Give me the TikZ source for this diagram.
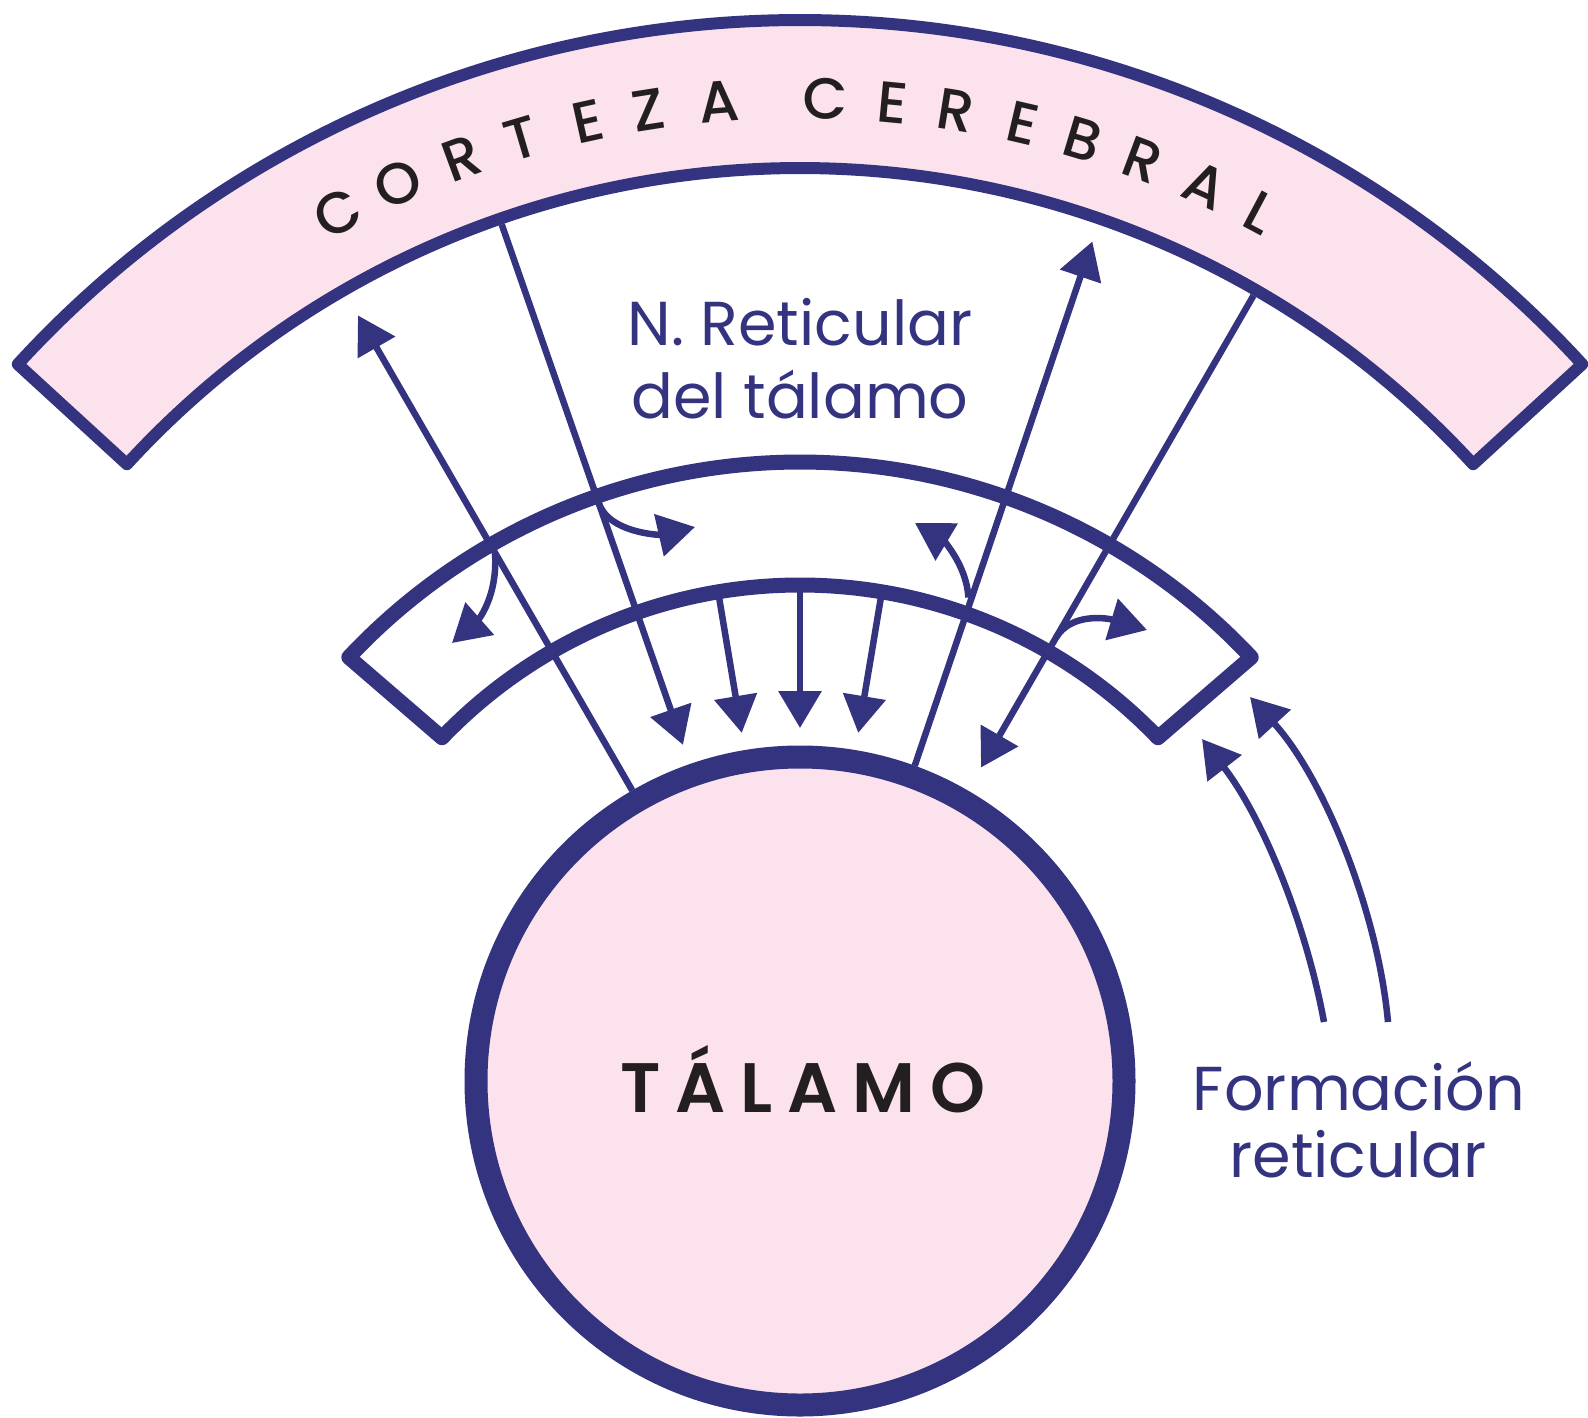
\documentclass[tikz,border=0pt]{standalone}
\usepackage{fontspec}
\setmainfont{Poppins}
\newfontfamily\medfont{Poppins Medium}
\newfontfamily\semifont{Poppins SemiBold}
\usetikzlibrary{arrows.meta}
\definecolor{navy}{HTML}{34337F}
\definecolor{rosa}{HTML}{FBE2EC}
\definecolor{ink}{HTML}{231F20}
\newcommand\tgap{\kern15pt}
\begin{document}
\begin{tikzpicture}[x=1pt,y=-1pt,
  band/.style={draw=navy,line join=round},
  fiber/.style={draw=navy,line width=6.5pt,-{Triangle[length=37pt,width=42pt]}},
  lab/.style={text=navy,font=\fontsize{62}{72}\selectfont,inner sep=0pt,anchor=base},
  letra/.style={text=ink,font=\medfont\fontsize{58}{60}\selectfont,inner sep=0pt}]
\useasboundingbox (0,0) rectangle (1588,1417);
\begin{scope}[shift={(800,1081)}]
  % cortex band
  \filldraw[band,fill=rosa,line width=12pt] (-137.5:1061) arc[start angle=-137.5,end angle=-42.5,radius=1061]
     -- (-42.5:913) arc[start angle=-42.5,end angle=-137.5,radius=913] -- cycle;
  % reticular nucleus band
  \draw[band,line width=15pt] (-136.8:619) arc[start angle=-136.8,end angle=-43.2,radius=619]
     -- (-43.8:496) arc[start angle=-43.8,end angle=-136.2,radius=496] -- cycle;
  % thalamus
  \node[circle,draw=navy,fill=rosa,line width=23pt,minimum size=648pt,inner sep=0pt] (T) at (0,0) {};
  % coordinates of fibres
  \coordinate (a1t) at (-120:884);
  \coordinate (a2s) at (-109.2:907);
  \coordinate (a2t) at (-109.2:356);
  \coordinate (a4t) at (-70.8:889);
  \coordinate (a5s) at (-60:907);
  \coordinate (a5t) at (-60:362);
  \coordinate (r1s) at (-99.5:489);
  \coordinate (r1t) at (-99.5:353);
  \coordinate (r2s) at (-90:489);
  \coordinate (r2t) at (-90:353);
  \coordinate (r3s) at (-80.5:489);
  \coordinate (r3t) at (-80.5:353);
  \coordinate (b1s) at (-120:610);
  \coordinate (b2s) at (-109.2:612);
  \coordinate (b4s) at (-70.8:512);
  \coordinate (b5s) at (-60:512);
  % letters of the cortex label
  \foreach \a/\l/\n in {118.05/C/c1,114.15/O/c2,110.13/R/c3,106.45/T/c4,102.45/E/c5,98.87/Z/c6,94.72/A/c7,
      88.49/C/c8,84.57/E/c9,80.88/R/c10,76.91/E/c11,73.26/B/c12,69.58/R/c13,65.66/A/c14,62.05/L/c15}
    \node[letra,rotate=\a-90] (\n) at (-\a:983) {\l};
\end{scope}
\coordinate (b1e) at (452,643);
\coordinate (b2e) at (695,527);
\coordinate (b4e) at (915,523);
\coordinate (b5e) at (1147,630);
\coordinate (fa) at (1324,1022);
\coordinate (fat) at (1202,739);
\coordinate (fb) at (1388,1022);
\coordinate (fbt) at (1250,697);
% main fibres
\draw[fiber] (T.120) -- (a1t);
\draw[fiber] (a2s) -- (a2t);
\draw[fiber] (r1s) -- (r1t);
\draw[fiber] (r2s) -- (r2t);
\draw[fiber] (r3s) -- (r3t);
\draw[fiber] (T.70.8) -- (a4t);
\draw[fiber] (a5s) -- (a5t);
% collaterals
\draw[fiber] (b1s) .. controls +(3,45) and +(25,-22) .. (b1e);
\draw[fiber] (b2s) .. controls +(10,30) and +(-35,8) .. (b2e);
\draw[fiber] (b4s) .. controls +(-2,-35) and +(25,15) .. (b4e);
\draw[fiber] (b5s) .. controls +(15,-25) and +(-40,-12) .. (b5e);
% reticular formation
\draw[fiber] (fa) .. controls +(-18,-98) and +(61,79) .. (fat);
\draw[fiber] (fb) .. controls +(-10,-110) and +(74,81) .. (fbt);
% labels
\node[lab] (nr1) at (800,345) {N. Reticular};
\node[lab] (nr2) at (800,418) {del tálamo};
\node[lab] (fr1) at (1359,1110) {Formación};
\node[lab] (fr2) at (1358,1177) {reticular};
\node[text=ink,font=\semifont\fontsize{70}{72}\selectfont,inner sep=0pt,anchor=base] (tal) at (803,1112)
  {T\tgap Á\tgap L\tgap A\tgap M\tgap O};
\end{tikzpicture}
\end{document}
